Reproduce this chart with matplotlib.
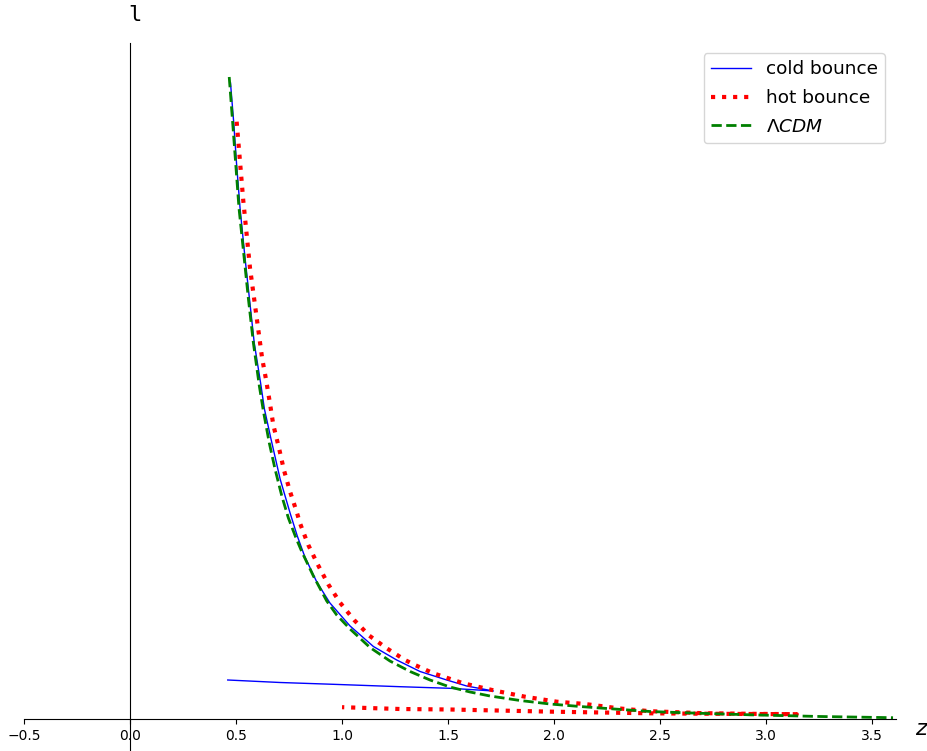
import matplotlib
matplotlib.use("Agg")
import matplotlib.pyplot as plt

# ---- data (y in arbitrary units) ----
green_x = [0.468, 0.484, 0.499, 0.514, 0.538, 0.558, 0.582, 0.610, 0.629, 0.657,
           0.684, 0.716, 0.747, 0.783, 0.811, 0.865, 0.928, 0.975, 1.038, 1.132,
           1.226, 1.321, 1.415, 1.509, 1.604, 1.698, 1.840, 1.981, 2.123, 2.217,
           2.453, 2.689, 2.925, 3.255, 3.599]
green_y = [6.42, 5.97, 5.54, 5.11, 4.62, 4.21, 3.76, 3.33, 3.08, 2.76,
           2.50, 2.23, 2.01, 1.81, 1.67, 1.43, 1.18, 1.04, 0.90, 0.715,
           0.58, 0.475, 0.39, 0.32, 0.27, 0.23, 0.185, 0.15, 0.125, 0.11,
           0.075, 0.057, 0.042, 0.025, 0.013]

cold_x = [0.474, 0.489, 0.503, 0.519, 0.542, 0.563, 0.586, 0.616, 0.634, 0.665,
          0.708, 0.755, 0.789, 0.825, 0.881, 0.943, 1.038, 1.148, 1.258, 1.368,
          1.494, 1.588, 1.714,
          1.604, 1.509, 1.274, 0.958, 0.708, 0.461]
cold_y = [6.36, 5.97, 5.54, 5.11, 4.62, 4.21, 3.76, 3.36, 3.10, 2.80,
          2.40, 2.06, 1.83, 1.62, 1.37, 1.16, 0.93, 0.725, 0.59, 0.475,
          0.39, 0.33, 0.28,
          0.295, 0.307, 0.323, 0.347, 0.365, 0.39]

hot_x = [0.503, 0.534, 0.566, 0.623, 0.642, 0.660, 0.676, 0.703, 0.726, 0.755,
         0.786, 0.802, 0.821, 0.841, 0.885, 0.935, 0.991, 1.057, 1.129, 1.211,
         1.297, 1.344, 1.431, 1.572, 1.722, 1.863, 2.013, 2.146, 2.311, 2.453,
         2.689, 2.925, 3.145,
         2.925, 2.689, 2.453, 1.995, 1.509, 1.274, 1.000]
hot_y = [5.973, 5.19, 4.51, 3.61, 3.39, 3.157, 2.94, 2.707, 2.49, 2.273,
         2.073, 1.957, 1.85, 1.74, 1.547, 1.347, 1.163, 0.99, 0.833, 0.707,
         0.59, 0.54, 0.457, 0.357, 0.283, 0.223, 0.173, 0.15, 0.105, 0.078,
         0.059, 0.052, 0.048,
         0.050, 0.053, 0.057, 0.073, 0.095, 0.100, 0.118]

xticks = [-0.5, 0.0, 0.5, 1.0, 1.5, 2.0, 2.5, 3.0, 3.5]

fig = plt.figure(figsize=(9.28, 7.51), dpi=100)
ax = fig.add_axes([24/928, 0.0, 872/928, 708/751])

ax.plot(cold_x, cold_y, color="blue", lw=1.0, label="cold bounce")
ax.plot(hot_x, hot_y, color="red", lw=3.0, ls=":", label="hot bounce")
ax.plot(green_x, green_y, color="green", lw=2.0, ls="--", label=r"$\Lambda CDM$")

ax.set_xlim(-0.5, 3.613)
ax.set_ylim(-0.32, 6.76)

ax.spines["left"].set_position(("data", 0))
ax.spines["bottom"].set_position(("data", 0))
ax.spines["top"].set_visible(False)
ax.spines["right"].set_visible(False)
ax.set_xticks(xticks)
ax.set_xticklabels([f"{t:.1f}".replace("-", "\u2212") for t in xticks])
ax.set_yticks([])
ax.tick_params(axis="x", labelsize=10)

leg = ax.legend(loc="upper right", fontsize=13.3, handlelength=2.15,
                labelspacing=0.58,
                bbox_to_anchor=(1.0 - 11/872, 1.0 - 10/708), borderaxespad=0)

fig.text(135/928, 1 - 15/751, "l", family="DejaVu Sans Mono", fontsize=16,
         ha="center", va="center")
fig.text(921/928, 1 - 729/751, "z", style="italic", fontsize=16,
         ha="center", va="center")

fig.savefig("out.png", dpi=100)
